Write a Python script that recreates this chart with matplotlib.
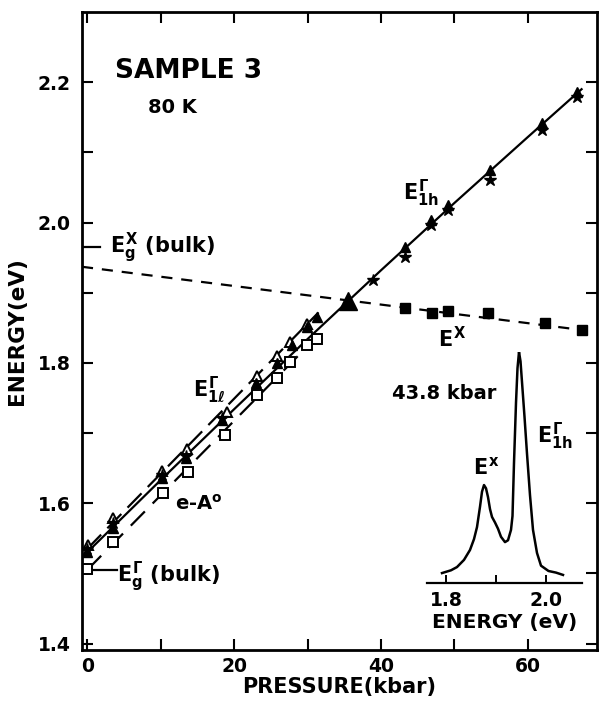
import numpy as np
import matplotlib.pyplot as plt

plt.rcParams['font.family'] = ['DejaVu Sans']
plt.rcParams['font.weight'] = 'bold'
plt.rcParams['mathtext.fontset'] = 'custom'
plt.rcParams['mathtext.rm'] = 'DejaVu Sans:bold'
plt.rcParams['mathtext.it'] = 'DejaVu Sans:bold'
plt.rcParams['mathtext.bf'] = 'DejaVu Sans:bold'

# E_1h (filled triangles, stars) with solid fit line
tri_p = [0, 3.5, 10.2, 13.4, 18.4, 23.0, 25.8, 27.9, 29.9, 31.3, 43.3, 46.8, 49.1, 54.8, 61.9, 66.7]
tri_e = [1.530, 1.565, 1.636, 1.664, 1.719, 1.771, 1.800, 1.826, 1.851, 1.866, 1.965, 2.003, 2.025, 2.075, 2.142, 2.186]
star_p = [0, 3.5, 10.2, 13.4, 18.4, 38.9, 43.3, 46.8, 49.1, 54.8, 61.9, 66.7]
star_e = [1.535, 1.572, 1.640, 1.668, 1.722, 1.918, 1.951, 1.996, 2.018, 2.060, 2.132, 2.179]
fit1h_p = [-0.3, 10, 20, 30, 40, 50, 60, 67.3]
fit1h_e = [1.527, 1.633, 1.734, 1.834, 1.932, 2.028, 2.122, 2.190]
cross_p = [35.5]
cross_e = [1.888]

# E_1l (open triangles) with long-dash line
otri_p = [0.1, 3.5, 10.2, 13.6, 19.0, 23.1, 25.8, 27.6, 29.9]
otri_e = [1.540, 1.579, 1.646, 1.678, 1.730, 1.782, 1.810, 1.830, 1.855]
fit1l_p = [0, 31.5]
fit1l_e = [1.535, 1.872]

# e-A0 (open squares) with long-dash line
osq_p = [0, 3.5, 10.3, 13.7, 18.8, 23.1, 25.8, 27.6, 29.9, 31.3]
osq_e = [1.507, 1.545, 1.614, 1.644, 1.697, 1.754, 1.778, 1.801, 1.825, 1.834]
fitea_p = [0, 32]
fitea_e = [1.505, 1.845]

# E^X (filled squares) with dashed line
sq_p = [43.3, 46.9, 49.1, 54.6, 62.3, 67.3]
sq_e = [1.878, 1.871, 1.874, 1.871, 1.857, 1.847]
fitx_p = [-0.7, 67.3]
fitx_e = [1.937, 1.847]

# bulk gaps
egx = 1.965
egg = 1.505

# inset spectrum at 43.8 kbar
spec_e = [1.792, 1.810, 1.822, 1.836, 1.848, 1.856, 1.862, 1.868, 1.872, 1.876, 1.880, 1.884,
          1.888, 1.892, 1.898, 1.904, 1.910, 1.918, 1.924, 1.930, 1.933, 1.936, 1.940, 1.943,
          1.946, 1.949, 1.952, 1.957, 1.962, 1.968, 1.974, 1.982, 1.990, 2.005, 2.020, 2.034]
spec_i = [0.043, 0.055, 0.069, 0.100, 0.143, 0.190, 0.242, 0.330, 0.395, 0.424, 0.410, 0.372,
          0.320, 0.286, 0.262, 0.235, 0.200, 0.177, 0.185, 0.230, 0.290, 0.520, 0.780, 0.930,
          1.000, 0.960, 0.870, 0.720, 0.560, 0.380, 0.230, 0.130, 0.075, 0.052, 0.045, 0.035]

fig = plt.figure(figsize=(6.02, 7.02), dpi=100)
ax = fig.add_axes([82/602, 52/702, 515/602, 638/702])

lw = 1.6
ax.plot(fit1h_p, fit1h_e, color='black', lw=lw)
ax.plot(fit1l_p, fit1l_e, color='black', lw=lw, dashes=(9, 4))
ax.plot(fitea_p, fitea_e, color='black', lw=lw, dashes=(9, 5))
ax.plot(fitx_p, fitx_e, color='black', lw=lw, dashes=(5, 4))
ax.plot([-0.7, 1.8], [egx, egx], color='black', lw=lw)
ax.plot([-0.7, 4.1], [egg, egg], color='black', lw=lw)

ax.plot(osq_p, osq_e, 's', ms=6.5, mfc='white', mec='black', mew=1.4, ls='none')
ax.plot(otri_p, otri_e, '^', ms=7, mfc='white', mec='black', mew=1.4, ls='none')
ax.plot(tri_p, tri_e, '^', ms=7.5, color='black', ls='none')
ax.plot(star_p, star_e, '*', ms=9, color='black', ls='none')
ax.plot(cross_p, cross_e, '^', ms=13, color='black', ls='none')
ax.plot(sq_p, sq_e, 's', ms=7, color='black', ls='none')

ax.set_xlim(-0.7, 69.4)
ax.set_ylim(1.391, 2.30)
ax.set_xticks([0, 20, 40, 60])
ax.set_xticks([10, 30, 50], minor=True)
ax.set_yticks([1.4, 1.6, 1.8, 2.0, 2.2])
ax.set_yticklabels(['1.4', '1.6', '1.8', '2.0', '2.2'])
ax.set_yticks([1.5, 1.7, 1.9, 2.1], minor=True)
ax.tick_params(which='both', direction='in', top=True, right=True, length=8, width=1.5,
               labelsize=13.5)
ax.tick_params(axis='y', pad=8)
ax.tick_params(axis='x', pad=5)
for s in ax.spines.values():
    s.set_linewidth(2)

ax.set_xlabel('PRESSURE(kbar)', fontsize=15, fontweight='bold', labelpad=1)
ax.set_ylabel('ENERGY(eV)', fontsize=15.5, fontweight='bold', labelpad=8)

ax.text(3.8, 2.216, 'SAMPLE 3', fontsize=19, fontweight='bold', va='center', ha='left')
ax.text(8.3, 2.164, '80 K', fontsize=14, fontweight='bold', va='center', ha='left')
ax.text(43.0, 2.032, r'$E^{\Gamma}_{1h}$', fontsize=15, va='baseline', ha='left')
ax.text(47.8, 1.823, r'$E^{X}$', fontsize=15, va='baseline', ha='left')
ax.text(14.4, 1.752, r'$E^{\Gamma}_{1\ell}$', fontsize=15, va='baseline', ha='left')
ax.text(12.0, 1.591, r'e-A$^{\mathrm{o}}$', fontsize=14, va='baseline', ha='left')
ax.text(4.1, 1.487, r'$E^{\Gamma}_{g}$ (bulk)', fontsize=15, va='baseline', ha='left')
ax.text(3.1, 1.957, r'$E^{X}_{g}$ (bulk)', fontsize=15, va='baseline', ha='left')
ax.text(41.5, 1.748, '43.8 kbar', fontsize=14, fontweight='bold', va='baseline', ha='left')

ins = fig.add_axes([427/602, 119/702, 155/602, 231/702])
ins.patch.set_alpha(0)
ins.plot(spec_e, spec_i, color='black', lw=1.8)
ins.set_xlim(1.762, 2.072)
ins.set_ylim(0, 1.0)
for side in ['left', 'right', 'top']:
    ins.spines[side].set_visible(False)
ins.spines['bottom'].set_linewidth(1.6)
ins.set_yticks([])
ins.set_xticks([1.8, 2.0])
ins.set_xticklabels(['1.8', '2.0'])
ins.set_xticks([1.9], minor=True)
ins.tick_params(which='both', direction='in', length=6, width=1.4, labelsize=13.5, pad=6)
ins.set_xlabel('ENERGY (eV)', fontsize=14.5, fontweight='bold', labelpad=2)
ins.text(1.854, 0.468, r'$E^{x}$', fontsize=15, va='baseline', ha='left')
ins.text(1.982, 0.606, r'$E^{\Gamma}_{1h}$', fontsize=15, va='baseline', ha='left')

fig.savefig('out.png', dpi=100)
